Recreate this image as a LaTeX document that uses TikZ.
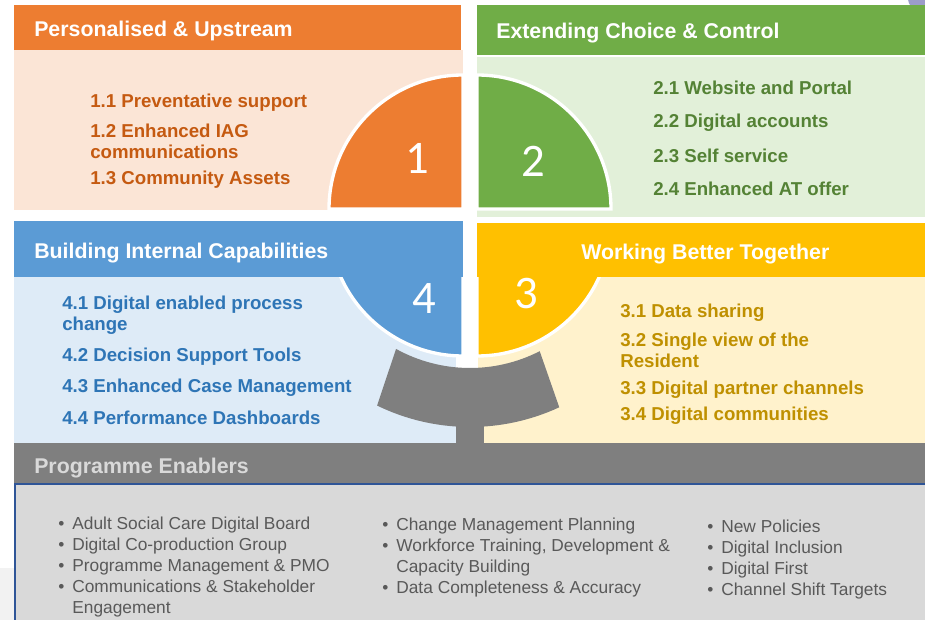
\documentclass[tikz,border=0pt]{standalone}
\usepackage{fontspec}
\setmainfont{Liberation Sans}
\newfontfamily\numfont{Carlito}
\usepackage{tikz}
\usetikzlibrary{positioning}
\definecolor{orangehd}{HTML}{ED7D31}
\definecolor{orangebg}{HTML}{FBE5D6}
\definecolor{orangetx}{HTML}{C55A11}
\definecolor{greenhd}{HTML}{70AD47}
\definecolor{greenbg}{HTML}{E2F0D9}
\definecolor{greentx}{HTML}{548235}
\definecolor{bluehd}{HTML}{5B9BD5}
\definecolor{bluebg}{HTML}{DEEBF7}
\definecolor{bluetx}{HTML}{2E75B6}
\definecolor{yellowhd}{HTML}{FFC000}
\definecolor{yellowbg}{HTML}{FFF2CC}
\definecolor{yellowtx}{HTML}{BF9000}
\definecolor{greyhd}{HTML}{7F7F7F}
\definecolor{greybg}{HTML}{D9D9D9}
\definecolor{greytx}{HTML}{595959}
\definecolor{edgeblue}{HTML}{2F5597}
\tikzstyle{head} = [anchor=west, inner sep=0pt, text=white,
    font=\fontsize{16}{19}\selectfont\bfseries]
\tikzstyle{item} = [anchor=west, inner sep=0pt, align=left,
    font=\fontsize{14}{15.8}\selectfont\bfseries]
\tikzstyle{num} = [inner sep=0pt, text=white, font=\fontsize{35}{40}\selectfont\numfont]
\tikzstyle{quad} = [draw=white, line width=2.5pt]
\tikzstyle{enabler} = [anchor=base west, inner sep=0pt, text=greytx,
    font=\fontsize{13}{15.75}\selectfont]

\begin{document}
\begin{tikzpicture}[x=0.75pt, y=0.75pt]
    \useasboundingbox (0,0) rectangle (925,-620);
    % Panels
    \fill[blue!30!gray!60] (922,2) circle (14);
    \fill[gray!10] (0,-568) rectangle (14,-620);
    \fill[orangebg] (14,-50) rectangle (463,-210);
    \fill[greenbg] (477,-57) rectangle (925,-217);
    \fill[bluebg] (14,-277) rectangle (456,-443);
    \fill[yellowbg] (478,-277) rectangle (925,-443);
    \fill[orangehd] (14,-5) rectangle (461,-50);
    \fill[greenhd] (477,-5) rectangle (925,-55);

    % Quarter discs
    \coordinate (hub) at (470,-215);
    \filldraw[quad, fill=orangehd] (463,-209) -- ++(-134,0) arc[start angle=180, end angle=90, radius=134] -- cycle;
    \filldraw[quad, fill=greenhd] (477,-209) -- ++(0,134) arc[start angle=90, end angle=0, radius=134] -- cycle;
    \filldraw[quad, fill=yellowhd] (477,-222) -- ++(134,0) arc[start angle=0, end angle=-90, radius=134] -- cycle;
    \filldraw[quad, fill=bluehd] (463,-222) -- ++(0,-134) arc[start angle=270, end angle=180, radius=134] -- cycle;
    \fill[bluehd] (14,-221) rectangle (463,-277);
    \fill[yellowhd] (477,-223) rectangle (925,-277);

    % Stand
    \fill[greyhd] ([shift={(241.1:153)}]hub) arc[start angle=241.1, end angle=297.1, radius=153]
        -- ([shift={(294.9:212)}]hub) arc[start angle=294.9, end angle=244, radius=212] -- cycle;
    \fill[greyhd] (456,-420) rectangle (484,-444);
    \fill[greyhd] (14,-443) rectangle (925,-484);
    \filldraw[fill=greybg, draw=edgeblue, line width=1.5pt] (15,-484) rectangle (935,-640);

    % Place nodes
    \node[num] (n1) at (417,-158) {1};
    \node[num] (n2) at (533,-161) {2};
    \node[num] (n3) at (526,-294) {3};
    \node[num] (n4) at (424,-299) {4};

    \node[head] (ps) at (34,-31) {Personalised \& Upstream};
    \node[head] (ecc) at (496,-33) {Extending Choice \& Control};
    \node[head] (bic) at (34,-253) {Building Internal Capabilities};
    \node[head] (wbt) at (581,-254) {Working Better Together};
    \node[head, text=greybg] (pe) at (34,-468) {Programme Enablers};

    \node[item, text=orangetx] (i11) at (90,-103) {1.1 Preventative support};
    \node[item, text=orangetx] (i12) at (90,-141.5) {1.2 Enhanced IAG\\communications};
    \node[item, text=orangetx] (i13) at (90,-180) {1.3 Community Assets};

    \node[item, text=greentx] (i21) at (653,-88) {2.1 Website and Portal};
    \node[item, text=greentx] (i22) at (653,-123) {2.2 Digital accounts};
    \node[item, text=greentx] (i23) at (653,-156) {2.3 Self service};
    \node[item, text=greentx] (i24) at (653,-189) {2.4 Enhanced AT offer};

    \node[item, text=yellowtx] (i31) at (620,-313) {3.1 Data sharing};
    \node[item, text=yellowtx] (i32) at (620,-350.5) {3.2 Single view of the\\Resident};
    \node[item, text=yellowtx] (i33) at (620,-390) {3.3 Digital partner channels};
    \node[item, text=yellowtx] (i34) at (620,-416) {3.4 Digital communities};

    \node[item, text=bluetx] (i41) at (62,-315) {4.1 Digital enabled process\\change};
    \node[item, text=bluetx] (i42) at (62,-357) {4.2 Decision Support Tools};
    \node[item, text=bluetx] (i43) at (62,-388) {4.3 Enhanced Case Management};
    \node[item, text=bluetx] (i44) at (62,-418) {4.4 Performance Dashboards};

    \node[enabler] (col1) at (58,-529) {\begin{tabular}[t]{@{}l@{\hspace{6pt}}l@{}}
        \textbullet & Adult Social Care Digital Board\\
        \textbullet & Digital Co-production Group\\
        \textbullet & Programme Management \& PMO\\
        \textbullet & Communications \& Stakeholder\\
                    & Engagement
    \end{tabular}};
    \node[enabler] (col2) at (382,-530) {\begin{tabular}[t]{@{}l@{\hspace{6pt}}l@{}}
        \textbullet & Change Management Planning\\
        \textbullet & Workforce Training, Development \&\\
                    & Capacity Building\\
        \textbullet & Data Completeness \& Accuracy
    \end{tabular}};
    \node[enabler] (col3) at (707,-532) {\begin{tabular}[t]{@{}l@{\hspace{6pt}}l@{}}
        \textbullet & New Policies\\
        \textbullet & Digital Inclusion\\
        \textbullet & Digital First\\
        \textbullet & Channel Shift Targets
    \end{tabular}};
\end{tikzpicture}
\end{document}
